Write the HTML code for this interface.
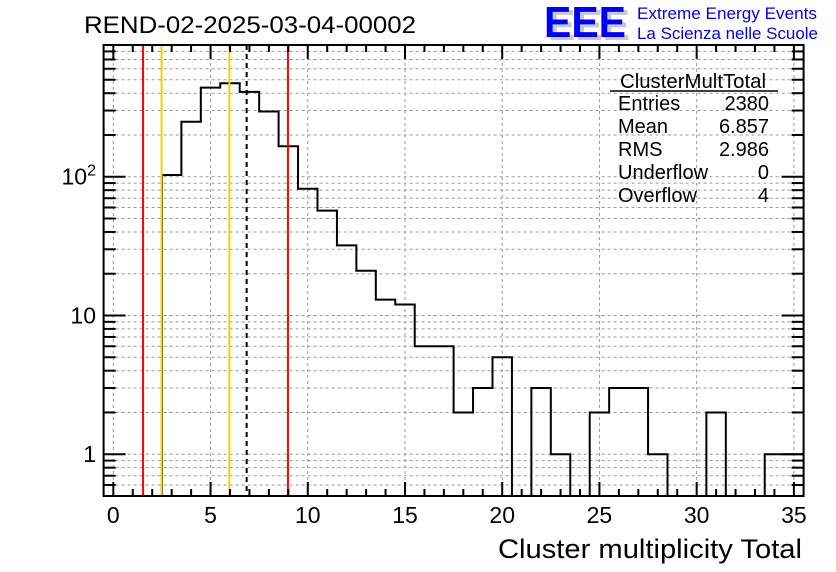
<!DOCTYPE html>
<html><head><meta charset="utf-8"><style>
body{margin:0;background:#fff;}
svg{display:block;font-family:"Liberation Sans",sans-serif;}
</style></head><body>
<svg id="chart" width="836" height="572" viewBox="0 0 836 572" xmlns="http://www.w3.org/2000/svg">
<rect width="836" height="572" fill="#fff"/>
<text x="84" y="33" font-size="24" textLength="332" lengthAdjust="spacingAndGlyphs">REND-02-2025-03-04-00002</text>
<g>
<text x="548" y="40" font-size="44" font-weight="bold" fill="#c8c8c8" textLength="82" lengthAdjust="spacingAndGlyphs">EEE</text>
<text x="544" y="37" font-size="44" font-weight="bold" fill="#0000ff" textLength="82" lengthAdjust="spacingAndGlyphs">EEE</text>
<text x="637" y="19" font-size="17" fill="#0000ff" textLength="180" lengthAdjust="spacingAndGlyphs">Extreme Energy Events</text>
<text x="637" y="39" font-size="17" fill="#0000ff" textLength="181" lengthAdjust="spacingAndGlyphs">La Scienza nelle Scuole</text>
</g>
<g id="grid"></g>
<g id="marks"></g>
<g id="axes"></g>
<g font-size="20">
<text x="620" y="88" textLength="146" lengthAdjust="spacingAndGlyphs">ClusterMultTotal</text>
<line x1="610" y1="91" x2="778" y2="91" stroke="#000" stroke-width="1.5"/>
<text x="618" y="110">Entries</text><text x="769" y="110" text-anchor="end">2380</text>
<text x="618" y="133">Mean</text><text x="769" y="133" text-anchor="end">6.857</text>
<text x="618" y="156">RMS</text><text x="769" y="156" text-anchor="end">2.986</text>
<text x="618" y="179">Underflow</text><text x="769" y="179" text-anchor="end">0</text>
<text x="618" y="202">Overflow</text><text x="769" y="202" text-anchor="end">4</text>
</g>
<text x="802" y="558" font-size="27" text-anchor="end" textLength="304" lengthAdjust="spacingAndGlyphs">Cluster multiplicity Total</text>
</svg>
<script>
const binCenters=[3,4,5,6,7,8,9,10,11,12,13,14,15,16,17,18,19,20,21,22,23,24,25,26,27,28,29,30,31,32,33,34,35];
const binCounts=[103,249,439,472,409,295,166,82,57,32,21,13,12,6,6,2,3,5,0,3,1,0,2,3,3,1,0,0,2,0,0,1,1];
const xTickValues=[0,5,10,15,20,25,30,35];
const yTickValues=[1,10,100];
const yTickLabels=["1","10","10²"];
const redLines=[1.53,8.98];
const yellowLines=[2.48,5.97];
const meanLine=[6.857];

const X0=103.6,X1=803.6,Y0=496,Y1=45,xmin=-0.5,xmax=35.5,ymin=0.5,ymax=890;
const xs=v=>X0+(v-xmin)/(xmax-xmin)*(X1-X0);
const ys=v=>Y0-(Math.log10(v)-Math.log10(ymin))/(Math.log10(ymax)-Math.log10(ymin))*(Y0-Y1);
const NS="http://www.w3.org/2000/svg";
function mk(tag,attrs,parent){const e=document.createElementNS(NS,tag);for(const k in attrs)e.setAttribute(k,attrs[k]);parent.appendChild(e);return e;}
const grid=document.getElementById('grid'),marks=document.getElementById('marks'),axes=document.getElementById('axes');
for(const v of xTickValues){const l=mk('line',{x1:xs(v),x2:xs(v),y1:Y1,y2:Y0,stroke:'#999','stroke-dasharray':'3,3','stroke-width':1},grid);

}
const minorY=[];
for(let d=0.1;d<1000;d*=10){for(let m=1;m<10;m++){const v=m*d;if(v>=ymin-1e-9&&v<=ymax)minorY.push(v);}}
for(const v of minorY){const l=mk('line',{x1:X0,x2:X1,y1:ys(v),y2:ys(v),stroke:'#999','stroke-dasharray':'3,3','stroke-width':1},grid);

}
let d='';let prev=null;
binCenters.forEach((c,i)=>{const yv=binCounts[i]>0?ys(binCounts[i]):Y0;const xl=xs(c-0.5),xr=xs(c+0.5);
if(prev===null)d+=`M${xl},${Y0}L${xl},${yv}`;else d+=`L${xl},${yv}`;d+=`L${xr},${yv}`;prev=yv;});
const p=mk('path',{d:d,fill:'none',stroke:'#000','stroke-width':2},marks);


function vline(v,col,dash,name){const l=mk('line',{x1:xs(v),x2:xs(v),y1:Y1,y2:Y0,stroke:col,'stroke-width':2},marks);if(dash)l.setAttribute('stroke-dasharray',dash);

}
redLines.forEach(v=>vline(v,'#ff0000',null,'red-limit-line'));
yellowLines.forEach(v=>vline(v,'#ffcc00',null,'yellow-limit-line'));
meanLine.forEach(v=>vline(v,'#000',"5,4",'mean-line'));
const fr=mk('rect',{x:X0,y:Y1,width:X1-X0,height:Y0-Y1,fill:'none',stroke:'#000','stroke-width':2},axes);


for(let v=0;v<=35;v++){const major=v%5===0;const len=major?14:7;const x=xs(v);
mk('line',{x1:x,x2:x,y1:Y0,y2:Y0-len,stroke:'#000','stroke-width':2},axes);
mk('line',{x1:x,x2:x,y1:Y1,y2:Y1+len,stroke:'#000','stroke-width':2},axes);}
xTickValues.forEach(v=>{const t=mk('text',{x:xs(v),y:523,'font-size':23,'text-anchor':'middle'},axes);t.textContent=v;

});
for(const v of minorY){const major=yTickValues.includes(Math.round(v*1000)/1000);const len=major?22:12;const y=ys(v);
mk('line',{x1:X0,x2:X0+len,y1:y,y2:y,stroke:'#000','stroke-width':2},axes);
mk('line',{x1:X1,x2:X1-len,y1:y,y2:y,stroke:'#000','stroke-width':2},axes);}
yTickValues.forEach((v,i)=>{const t=mk('text',{x:96,y:ys(v)+8,'font-size':23,'text-anchor':'end'},axes);
if(i===2){t.textContent='10';const s=mk('tspan',{dy:-9,'font-size':16},t);s.textContent='2';}else t.textContent=yTickLabels[i];

});
</script>
</body></html>
